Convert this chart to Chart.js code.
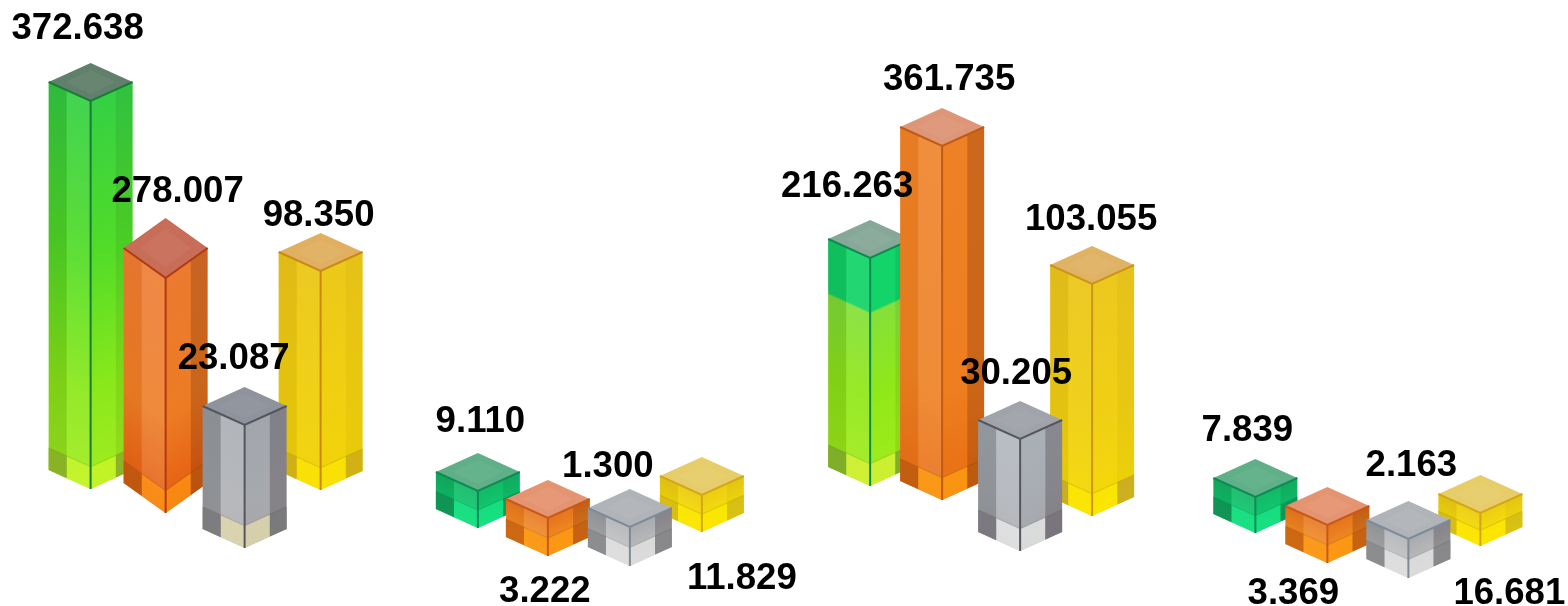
<!DOCTYPE html>
<html>
<head>
<meta charset="utf-8">
<style>html,body{margin:0;padding:0;background:#fff}canvas{display:block}</style>
<script src="https://cdn.jsdelivr.net/npm/chart.js@4"></script>
</head>
<body>
<canvas id="c" width="1568" height="606"></canvas>
<script>
const categories = ['Group 1', 'Group 2', 'Group 3', 'Group 4'];

// Values printed above the bars
const greenValues  = [372.638, 9.110, 216.263, 7.839];
const orangeValues = [278.007, 3.222, 361.735, 3.369];
const greyValues   = [23.087, 1.300, 30.205, 2.163];
const yellowValues = [98.350, 11.829, 103.055, 16.681];

// Drawn extent of each pictorial bar (the source art is not to scale)
const greenTops     = [543, 153, 386, 147];
const greenBottoms  = [117, 78, 120, 73];
const orangeTops    = [388, 126, 498, 119];
const orangeBottoms = [93, 50, 106, 43];
const greyTops      = [219, 117, 205, 105];
const greyBottoms   = [58, 40, 55, 28];
const yellowTops    = [373, 149, 360, 131];
const yellowBottoms = [116, 74, 90, 60];

// ----- layout and style, separate from the data -----
const paintOrder = ['green', 'yellow', 'orange', 'grey'];
const capDepths = { green:[19,19,19,19], orange:[30,19,19,19], grey:[19,19,19,19], yellow:[19,19,19,19] };
const xNudges   = { green:[0,0,5,3], orange:[-1,-6,1,-1], grey:[2,0,3,4], yellow:[2,-4,-1,0] };
const labelShifts = {
  green:  [[-13,-34],[2.5,-31],[-23,-33],[-8,-28]],
  orange: [[12,-26],[-3,112],[7,-28],[-34,107]],
  grey:   [[-11,-28],[-22,-22],[-4,-27],[3,-35]],
  yellow: [[-2,-17],[40,122],[-1,-26],[29,119]]
};
const smallGreen  = {stops:[[0,'#14b866'],[.45,'#0fc46c'],[1,'#14cf76']], foot:'#18e585', footOuter:'#108a50', cap:'#5fb088', edge:'#0f8a55'};
const smallOrange = {stops:[[0,'#e4741e'],[.45,'#ee8420'],[1,'#f08a18']], foot:'#ff9c12', footOuter:'#c45f12', cap:'#e59472', edge:'#c8581a'};
const smallGrey   = {stops:[[0,'#a8abae'],[.45,'#b4b6b8'],[1,'#bcbcbc']], foot:'#e6e6e6', footOuter:'#85878a', cap:'#b0b4b8', edge:'#7d8a98'};
const smallYellow = {stops:[[0,'#eccc14'],[.45,'#f2d80e'],[1,'#f6e004']], foot:'#fde800', footOuter:'#d2b818', cap:'#e6cd6a', edge:'#d2a818'};
const looks = {
  green: [
    {stops:[[0,'#34d044'],[.4,'#52dc28'],[.75,'#8ae81a'],[1,'#a2ec20']], foot:'#cdf52a', footOuter:'#8aa72a', cap:'#61806c', edge:'#1c7a38'},
    smallGreen,
    {stops:[[0,'#12d468'],[.235,'#12d468'],[.245,'#84e03a'],[.6,'#90e818'],[1,'#a2ec1c']], foot:'#dcf03a', footOuter:'#7ba030', cap:'#87a898', edge:'#0e8a50'},
    smallGreen
  ],
  orange: [
    {stops:[[0,'#ec7a30'],[.6,'#ec7c24'],[.85,'#e86818'],[1,'#e05c12']], foot:'#ff9612', footOuter:'#b8560f', cap:'#c86e58', edge:'#b03a14'},
    smallOrange,
    {stops:[[0,'#ee8026'],[.7,'#ee7e20'],[1,'#e86e14']], foot:'#ffa010', footOuter:'#b85a10', cap:'#de9678', edge:'#c05a14'},
    smallOrange
  ],
  grey: [
    {stops:[[0,'#a2a6ac'],[.6,'#a6a9ae'],[1,'#a8a8a8']], foot:'#e4dcae', footOuter:'#77757a', cap:'#8e939c', edge:'#55555c'},
    smallGrey,
    {stops:[[0,'#aab0b8'],[.6,'#a8acb2'],[1,'#a4a4a6']], foot:'#ececec', footOuter:'#77717a', cap:'#a0a4aa', edge:'#56565c'},
    smallGrey
  ],
  yellow: [
    {stops:[[0,'#ecc81a'],[.6,'#f0d010'],[1,'#f2d408']], foot:'#fbe404', footOuter:'#c9a818', cap:'#e0b060', edge:'#c88a12'},
    smallYellow,
    {stops:[[0,'#ecc81e'],[.6,'#f0d014'],[1,'#f4da08']], foot:'#fce802', footOuter:'#c2a428', cap:'#e0b264', edge:'#cc9418'},
    smallYellow
  ]
};
const shades = {
  green:  {outer:'rgba(0,0,0,.10)', inner:'rgba(255,255,255,.07)', band:'rgba(0,0,0,.07)'},
  orange: {outer:'rgba(0,0,0,.03)', inner:'rgba(255,255,255,.11)', band:'rgba(90,30,0,.24)'},
  grey:   {outer:'rgba(0,0,0,.14)', inner:'rgba(255,255,255,.18)', band:'rgba(40,25,30,.26)'},
  yellow: {outer:'rgba(120,80,0,.10)', inner:'rgba(255,255,255,.03)', band:'rgba(120,80,0,.06)'}
};
const fontSpec = 'bold 36.6px "Liberation Sans", Arial, sans-serif';

function drawFace(ctx, x0, y0, w, slope, h, look, outerSpan, innerSpan, outerFill, innerFill) {
  ctx.save();
  ctx.transform(1, slope, 0, 1, x0, y0);
  const g = ctx.createLinearGradient(0, 0, 0, h);
  look.stops.forEach(s => g.addColorStop(s[0], s[1]));
  ctx.fillStyle = g;
  ctx.fillRect(0, 0, w, h);
  ctx.fillStyle = outerFill;
  ctx.fillRect(outerSpan[0] * w, 0, (outerSpan[1] - outerSpan[0]) * w, h);
  if (innerFill) {
    ctx.fillStyle = innerFill;
    ctx.fillRect(innerSpan[0] * w, 0, (innerSpan[1] - innerSpan[0]) * w, h);
  }
  const footH = Math.min(22, h * 0.47);
  ctx.globalAlpha = 0.75;
  ctx.fillStyle = look.foot;
  ctx.fillRect(innerSpan[0] * w, h - footH, (innerSpan[1] - innerSpan[0]) * w, footH);
  ctx.fillStyle = look.footOuter;
  ctx.fillRect(outerSpan[0] * w, h - footH, (outerSpan[1] - outerSpan[0]) * w, footH);
  ctx.globalAlpha = 1;
  ctx.fillStyle = 'rgba(0,0,0,.08)';
  ctx.fillRect(0, h - footH - 1, w, 1.5);
  ctx.restore();
}

function drawPrism(ctx, el, series, i) {
  const look = looks[series][i], shade = shades[series];
  const d = capDepths[series][i];
  const half = el.width / 2;
  const cx = el.x + xNudges[series][i];
  const L = cx - half, R = cx + half;
  const top = el.y, base = el.base;
  const side = top + d, front = top + 2 * d;
  const h = base - front;
  const k = d / half;
  ctx.save();
  ctx.filter = 'blur(0.7px)';
  drawFace(ctx, L, side, half, k, h, look, [0, .43], [.43, 1], shade.outer, shade.inner);
  drawFace(ctx, cx, front, half, -k, h, look, [.6, 1], [0, .6], shade.band, null);
  ctx.strokeStyle = look.edge;
  ctx.lineWidth = 2;
  ctx.beginPath(); ctx.moveTo(cx, front); ctx.lineTo(cx, base); ctx.stroke();
  ctx.fillStyle = look.cap;
  ctx.beginPath();
  ctx.moveTo(cx, top); ctx.lineTo(R, side); ctx.lineTo(cx, front); ctx.lineTo(L, side); ctx.closePath();
  ctx.fill();
  ctx.fillStyle = 'rgba(255,255,255,.04)';
  ctx.beginPath();
  ctx.moveTo(cx, top + d * .35); ctx.lineTo(R - half * .4, side); ctx.lineTo(cx, front - d * .35); ctx.lineTo(L + half * .4, side); ctx.closePath();
  ctx.fill();
  ctx.beginPath();
  ctx.moveTo(L, side); ctx.lineTo(cx, front); ctx.lineTo(R, side);
  ctx.stroke();
  ctx.restore();
}

const prismPlugin = {
  id: 'prisms',
  // The library's scales give each bar's geometry; the glass prism replaces the flat rectangle.
  beforeDatasetDraw() { return false; },
  afterDatasetsDraw(chart) {
    const ctx = chart.ctx;
    const datasets = chart.data.datasets;
    paintOrder.forEach(key => {
      const di = datasets.findIndex(ds => ds.seriesKey === key);
      chart.getDatasetMeta(di).data.forEach((el, i) => drawPrism(ctx, el, key, i));
    });
    ctx.save();
    ctx.font = fontSpec;
    ctx.fillStyle = '#000';
    ctx.textAlign = 'center';
    ctx.textBaseline = 'middle';
    datasets.forEach((ds, di) => {
      chart.getDatasetMeta(di).data.forEach((el, i) => {
        const s = labelShifts[ds.seriesKey][i];
        ctx.fillText(ds.values[i].toFixed(3), el.x + xNudges[ds.seriesKey][i] + s[0], el.y + s[1]);
      });
    });
    ctx.restore();
  }
};

function pairs(bottoms, tops) { return bottoms.map((b, i) => [b, tops[i]]); }

new Chart(document.getElementById('c'), {
  type: 'bar',
  data: {
    labels: categories,
    datasets: [
      {label:'Green',  seriesKey:'green',  values:greenValues,  data:pairs(greenBottoms, greenTops),   backgroundColor:'#58dc30'},
      {label:'Orange', seriesKey:'orange', values:orangeValues, data:pairs(orangeBottoms, orangeTops), backgroundColor:'#ec7c24'},
      {label:'Grey',   seriesKey:'grey',   values:greyValues,   data:pairs(greyBottoms, greyTops),     backgroundColor:'#a6a9ae'},
      {label:'Yellow', seriesKey:'yellow', values:yellowValues, data:pairs(yellowBottoms, yellowTops), backgroundColor:'#f0d010'}
    ]
  },
  options: {
    responsive: false,
    animation: false,
    layout: {padding: {left: 11, right: 8, top: 0, bottom: 0}},
    categoryPercentage: 0.785,
    barPercentage: 1.105,
    plugins: {legend: {display: false}, tooltip: {enabled: false}},
    scales: {
      x: {display: false},
      y: {display: false, min: 0, max: 606}
    }
  },
  plugins: [prismPlugin]
});
</script>
</body>
</html>
